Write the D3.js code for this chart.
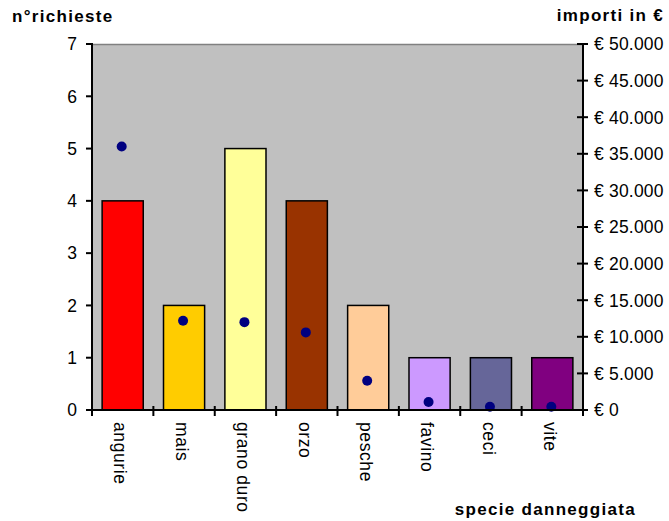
<!DOCTYPE html>
<html>
<head>
<meta charset="utf-8">
<script src="https://cdn.jsdelivr.net/npm/d3@7"></script>
<style>
  html, body { margin: 0; padding: 0; background: #ffffff; }
  svg { display: block; font-family: "Liberation Sans", Arial, sans-serif; }
</style>
</head>
<body>
<svg id="chart" width="669" height="521"></svg>
<script>
// Richieste di risarcimento per specie danneggiata
const categories = ["angurie", "mais", "grano duro", "orzo", "pesche", "favino", "ceci", "vite"];
const richieste = [4, 2, 5, 4, 2, 1, 1, 1];
const importi = [36000, 12200, 12000, 10600, 4000, 1100, 450, 450];
const barColors = ["#FF0000", "#FFCC00", "#FFFF99", "#993300", "#FFCC99", "#CC99FF", "#666699", "#800080"];
const leftTicks = [0, 1, 2, 3, 4, 5, 6, 7];
const rightTicks = [0, 5000, 10000, 15000, 20000, 25000, 30000, 35000, 40000, 45000, 50000];

const svg = d3.select("#chart");
const plot = { left: 92, right: 583, top: 44, bottom: 410 };

const x = d3.scaleBand()
  .domain(categories)
  .range([plot.left, plot.right])
  .paddingInner(0.33)
  .paddingOuter(0.165);

const xTick = d3.scaleLinear().domain([0, categories.length]).range([plot.left, plot.right]);
const yL = d3.scaleLinear().domain([0, 7]).range([plot.bottom, plot.top]);
const yR = d3.scaleLinear().domain([0, 50000]).range([plot.bottom, plot.top]);

const fmtEuro = v => "€ " + (v === 0 ? "0" : d3.format(",")(v).replace(/,/g, "."));

// plot area
svg.append("rect")
  .attr("x", plot.left).attr("y", plot.top)
  .attr("width", plot.right - plot.left).attr("height", plot.bottom - plot.top)
  .attr("fill", "#C0C0C0");
svg.append("line")
  .attr("x1", plot.left).attr("x2", plot.right)
  .attr("y1", plot.top + 0.5).attr("y2", plot.top + 0.5)
  .attr("stroke", "#808080").attr("stroke-width", 1.5);

// bars (n° richieste)
svg.append("g").selectAll("rect")
  .data(categories)
  .join("rect")
  .attr("x", d => x(d))
  .attr("y", (d, i) => yL(richieste[i]))
  .attr("width", x.bandwidth())
  .attr("height", (d, i) => yL(0) - yL(richieste[i]))
  .attr("fill", (d, i) => barColors[i])
  .attr("stroke", "#000")
  .attr("stroke-width", 1.5);

// points (importi)
svg.append("g").selectAll("circle")
  .data(categories)
  .join("circle")
  .attr("cx", d => x(d) + x.bandwidth() / 2 - 1)
  .attr("cy", (d, i) => yR(importi[i]))
  .attr("r", 5)
  .attr("fill", "#000080");

const axisColor = "#000";

// left axis
const gL = svg.append("g").attr("transform", `translate(${plot.left},0)`);
gL.append("line").attr("y1", plot.top).attr("y2", plot.bottom + 6).attr("stroke", axisColor).attr("stroke-width", 2);
gL.selectAll(".t").data(leftTicks).join("line")
  .attr("x1", -6).attr("x2", 1)
  .attr("y1", d => yL(d)).attr("y2", d => yL(d))
  .attr("stroke", axisColor).attr("stroke-width", 2);
gL.selectAll("text").data(leftTicks).join("text")
  .attr("x", -15).attr("y", d => yL(d)).attr("dy", "0.36em")
  .attr("text-anchor", "end").attr("font-size", 17.5).attr("fill", "#000")
  .text(d => d);

// right axis
const gR = svg.append("g").attr("transform", `translate(${plot.right},0)`);
gR.append("line").attr("y1", plot.top).attr("y2", plot.bottom + 6).attr("stroke", axisColor).attr("stroke-width", 2);
gR.selectAll(".t").data(rightTicks).join("line")
  .attr("x1", -6).attr("x2", 5)
  .attr("y1", d => yR(d)).attr("y2", d => yR(d))
  .attr("stroke", axisColor).attr("stroke-width", 2);
gR.selectAll("text").data(rightTicks).join("text")
  .attr("x", 11).attr("y", d => yR(d)).attr("dy", "0.36em")
  .attr("text-anchor", "start").attr("font-size", 17.5).attr("fill", "#000")
  .attr("letter-spacing", "0.2px")
  .text(fmtEuro);

// bottom axis
const gB = svg.append("g");
gB.append("line").attr("x1", plot.left - 6).attr("x2", plot.right + 5)
  .attr("y1", plot.bottom).attr("y2", plot.bottom)
  .attr("stroke", axisColor).attr("stroke-width", 2);
gB.selectAll(".t").data(d3.range(categories.length + 1)).join("line")
  .attr("x1", d => xTick(d)).attr("x2", d => xTick(d))
  .attr("y1", plot.bottom - 4).attr("y2", plot.bottom + 6)
  .attr("stroke", axisColor).attr("stroke-width", 2);
gB.selectAll("text").data(categories).join("text")
  .attr("transform", d => `translate(${x(d) + x.bandwidth() / 2 - 2},${plot.bottom + 12}) rotate(90)`)
  .attr("dy", "0.36em")
  .attr("text-anchor", "start").attr("font-size", 17.5).attr("fill", "#000")
  .attr("letter-spacing", "0.6px")
  .text(d => d);

// axis titles
svg.append("text").attr("x", 12).attr("y", 22)
  .attr("font-size", 17).attr("font-weight", "bold").attr("letter-spacing", "1.3px")
  .text("n°richieste");
svg.append("text").attr("x", 664).attr("y", 21).attr("text-anchor", "end")
  .attr("font-size", 17).attr("font-weight", "bold").attr("letter-spacing", "1.3px")
  .text("importi in €");
svg.append("text").attr("x", 636).attr("y", 515).attr("text-anchor", "end")
  .attr("font-size", 17).attr("font-weight", "bold").attr("letter-spacing", "1.3px")
  .text("specie danneggiata");
</script>
</body>
</html>
